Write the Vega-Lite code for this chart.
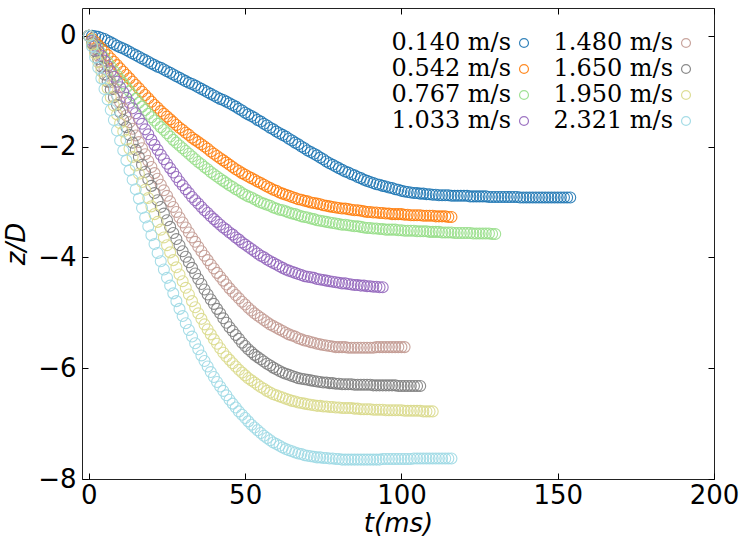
{
  "$schema": "https://vega.github.io/schema/vega-lite/v6.json",
  "description": "Penetration depth z/D against time for eight impact velocities.",
  "width": 632,
  "height": 471,
  "autosize": {"type": "none"},
  "padding": {"left": 82, "top": 8, "right": 33, "bottom": 69},
  "data": {
    "values": [
      {"v":"0.140","t":0,"z":0},{"v":"0.140","t":1,"z":-0.003},{"v":"0.140","t":2,"z":-0.01},{"v":"0.140","t":3,"z":-0.02},{"v":"0.140","t":4,"z":-0.04},{"v":"0.140","t":5,"z":-0.06},{"v":"0.140","t":6,"z":-0.09},{"v":"0.140","t":7,"z":-0.12},{"v":"0.140","t":8,"z":-0.15},{"v":"0.140","t":9,"z":-0.18},
      {"v":"0.140","t":10,"z":-0.21},{"v":"0.140","t":11,"z":-0.23},{"v":"0.140","t":12,"z":-0.26},{"v":"0.140","t":13,"z":-0.29},{"v":"0.140","t":14,"z":-0.32},{"v":"0.140","t":15,"z":-0.35},{"v":"0.140","t":16,"z":-0.38},{"v":"0.140","t":17,"z":-0.41},{"v":"0.140","t":18,"z":-0.44},{"v":"0.140","t":19,"z":-0.47},
      {"v":"0.140","t":20,"z":-0.50},{"v":"0.140","t":21,"z":-0.53},{"v":"0.140","t":22,"z":-0.56},{"v":"0.140","t":23,"z":-0.58},{"v":"0.140","t":24,"z":-0.61},{"v":"0.140","t":25,"z":-0.64},{"v":"0.140","t":26,"z":-0.67},{"v":"0.140","t":27,"z":-0.70},{"v":"0.140","t":28,"z":-0.73},{"v":"0.140","t":29,"z":-0.76},
      {"v":"0.140","t":30,"z":-0.79},{"v":"0.140","t":31,"z":-0.82},{"v":"0.140","t":32,"z":-0.85},{"v":"0.140","t":33,"z":-0.87},{"v":"0.140","t":34,"z":-0.90},{"v":"0.140","t":35,"z":-0.93},{"v":"0.140","t":36,"z":-0.96},{"v":"0.140","t":37,"z":-0.99},{"v":"0.140","t":38,"z":-1.02},{"v":"0.140","t":39,"z":-1.05},
      {"v":"0.140","t":40,"z":-1.08},{"v":"0.140","t":41,"z":-1.11},{"v":"0.140","t":42,"z":-1.14},{"v":"0.140","t":43,"z":-1.16},{"v":"0.140","t":44,"z":-1.19},{"v":"0.140","t":45,"z":-1.22},{"v":"0.140","t":46,"z":-1.25},{"v":"0.140","t":47,"z":-1.28},{"v":"0.140","t":48,"z":-1.32},{"v":"0.140","t":49,"z":-1.35},
      {"v":"0.140","t":50,"z":-1.39},{"v":"0.140","t":51,"z":-1.42},{"v":"0.140","t":52,"z":-1.45},{"v":"0.140","t":53,"z":-1.48},{"v":"0.140","t":54,"z":-1.52},{"v":"0.140","t":55,"z":-1.55},{"v":"0.140","t":56,"z":-1.59},{"v":"0.140","t":57,"z":-1.62},{"v":"0.140","t":58,"z":-1.66},{"v":"0.140","t":59,"z":-1.69},
      {"v":"0.140","t":60,"z":-1.73},{"v":"0.140","t":61,"z":-1.76},{"v":"0.140","t":62,"z":-1.79},{"v":"0.140","t":63,"z":-1.82},{"v":"0.140","t":64,"z":-1.86},{"v":"0.140","t":65,"z":-1.89},{"v":"0.140","t":66,"z":-1.93},{"v":"0.140","t":67,"z":-1.96},{"v":"0.140","t":68,"z":-2.00},{"v":"0.140","t":69,"z":-2.03},
      {"v":"0.140","t":70,"z":-2.07},{"v":"0.140","t":71,"z":-2.10},{"v":"0.140","t":72,"z":-2.13},{"v":"0.140","t":73,"z":-2.16},{"v":"0.140","t":74,"z":-2.20},{"v":"0.140","t":75,"z":-2.23},{"v":"0.140","t":76,"z":-2.27},{"v":"0.140","t":77,"z":-2.30},{"v":"0.140","t":78,"z":-2.33},{"v":"0.140","t":79,"z":-2.36},
      {"v":"0.140","t":80,"z":-2.39},{"v":"0.140","t":81,"z":-2.42},{"v":"0.140","t":82,"z":-2.45},{"v":"0.140","t":83,"z":-2.47},{"v":"0.140","t":84,"z":-2.50},{"v":"0.140","t":85,"z":-2.52},{"v":"0.140","t":86,"z":-2.55},{"v":"0.140","t":87,"z":-2.57},{"v":"0.140","t":88,"z":-2.60},{"v":"0.140","t":89,"z":-2.62},
      {"v":"0.140","t":90,"z":-2.64},{"v":"0.140","t":91,"z":-2.66},{"v":"0.140","t":92,"z":-2.68},{"v":"0.140","t":93,"z":-2.69},{"v":"0.140","t":94,"z":-2.71},{"v":"0.140","t":95,"z":-2.72},{"v":"0.140","t":96,"z":-2.74},{"v":"0.140","t":97,"z":-2.75},{"v":"0.140","t":98,"z":-2.77},{"v":"0.140","t":99,"z":-2.78},
      {"v":"0.140","t":100,"z":-2.80},{"v":"0.140","t":101,"z":-2.81},{"v":"0.140","t":102,"z":-2.82},{"v":"0.140","t":103,"z":-2.83},{"v":"0.140","t":104,"z":-2.84},{"v":"0.140","t":105,"z":-2.84},{"v":"0.140","t":106,"z":-2.85},{"v":"0.140","t":107,"z":-2.85},{"v":"0.140","t":108,"z":-2.86},{"v":"0.140","t":109,"z":-2.86},
      {"v":"0.140","t":110,"z":-2.87},{"v":"0.140","t":111,"z":-2.87},{"v":"0.140","t":112,"z":-2.88},{"v":"0.140","t":113,"z":-2.88},{"v":"0.140","t":114,"z":-2.88},{"v":"0.140","t":115,"z":-2.88},{"v":"0.140","t":116,"z":-2.89},{"v":"0.140","t":117,"z":-2.89},{"v":"0.140","t":118,"z":-2.89},{"v":"0.140","t":119,"z":-2.89},
      {"v":"0.140","t":120,"z":-2.89},{"v":"0.140","t":121,"z":-2.89},{"v":"0.140","t":122,"z":-2.90},{"v":"0.140","t":123,"z":-2.90},{"v":"0.140","t":124,"z":-2.90},{"v":"0.140","t":125,"z":-2.90},{"v":"0.140","t":126,"z":-2.90},{"v":"0.140","t":127,"z":-2.90},{"v":"0.140","t":128,"z":-2.91},{"v":"0.140","t":129,"z":-2.91},
      {"v":"0.140","t":130,"z":-2.91},{"v":"0.140","t":131,"z":-2.91},{"v":"0.140","t":132,"z":-2.91},{"v":"0.140","t":133,"z":-2.91},{"v":"0.140","t":134,"z":-2.91},{"v":"0.140","t":135,"z":-2.91},{"v":"0.140","t":136,"z":-2.91},{"v":"0.140","t":137,"z":-2.91},{"v":"0.140","t":138,"z":-2.92},{"v":"0.140","t":139,"z":-2.92},
      {"v":"0.140","t":140,"z":-2.92},{"v":"0.140","t":141,"z":-2.92},{"v":"0.140","t":142,"z":-2.92},{"v":"0.140","t":143,"z":-2.92},{"v":"0.140","t":144,"z":-2.92},{"v":"0.140","t":145,"z":-2.92},{"v":"0.140","t":146,"z":-2.92},{"v":"0.140","t":147,"z":-2.92},{"v":"0.140","t":148,"z":-2.92},{"v":"0.140","t":149,"z":-2.92},
      {"v":"0.140","t":150,"z":-2.92},{"v":"0.140","t":151,"z":-2.92},{"v":"0.140","t":152,"z":-2.92},{"v":"0.140","t":153,"z":-2.92},{"v":"0.140","t":154,"z":-2.92},
      {"v":"0.542","t":0,"z":0},{"v":"0.542","t":1,"z":-0.05},{"v":"0.542","t":2,"z":-0.11},{"v":"0.542","t":3,"z":-0.17},{"v":"0.542","t":4,"z":-0.23},{"v":"0.542","t":5,"z":-0.29},{"v":"0.542","t":6,"z":-0.35},{"v":"0.542","t":7,"z":-0.41},{"v":"0.542","t":8,"z":-0.47},{"v":"0.542","t":9,"z":-0.53},
      {"v":"0.542","t":10,"z":-0.59},{"v":"0.542","t":11,"z":-0.65},{"v":"0.542","t":12,"z":-0.71},{"v":"0.542","t":13,"z":-0.77},{"v":"0.542","t":14,"z":-0.83},{"v":"0.542","t":15,"z":-0.89},{"v":"0.542","t":16,"z":-0.95},{"v":"0.542","t":17,"z":-1.01},{"v":"0.542","t":18,"z":-1.07},{"v":"0.542","t":19,"z":-1.13},
      {"v":"0.542","t":20,"z":-1.19},{"v":"0.542","t":21,"z":-1.25},{"v":"0.542","t":22,"z":-1.30},{"v":"0.542","t":23,"z":-1.36},{"v":"0.542","t":24,"z":-1.41},{"v":"0.542","t":25,"z":-1.46},{"v":"0.542","t":26,"z":-1.51},{"v":"0.542","t":27,"z":-1.56},{"v":"0.542","t":28,"z":-1.61},{"v":"0.542","t":29,"z":-1.66},
      {"v":"0.542","t":30,"z":-1.70},{"v":"0.542","t":31,"z":-1.75},{"v":"0.542","t":32,"z":-1.79},{"v":"0.542","t":33,"z":-1.84},{"v":"0.542","t":34,"z":-1.88},{"v":"0.542","t":35,"z":-1.92},{"v":"0.542","t":36,"z":-1.96},{"v":"0.542","t":37,"z":-2.00},{"v":"0.542","t":38,"z":-2.04},{"v":"0.542","t":39,"z":-2.09},
      {"v":"0.542","t":40,"z":-2.13},{"v":"0.542","t":41,"z":-2.17},{"v":"0.542","t":42,"z":-2.21},{"v":"0.542","t":43,"z":-2.25},{"v":"0.542","t":44,"z":-2.29},{"v":"0.542","t":45,"z":-2.33},{"v":"0.542","t":46,"z":-2.37},{"v":"0.542","t":47,"z":-2.41},{"v":"0.542","t":48,"z":-2.44},{"v":"0.542","t":49,"z":-2.48},
      {"v":"0.542","t":50,"z":-2.51},{"v":"0.542","t":51,"z":-2.54},{"v":"0.542","t":52,"z":-2.57},{"v":"0.542","t":53,"z":-2.60},{"v":"0.542","t":54,"z":-2.63},{"v":"0.542","t":55,"z":-2.66},{"v":"0.542","t":56,"z":-2.69},{"v":"0.542","t":57,"z":-2.72},{"v":"0.542","t":58,"z":-2.75},{"v":"0.542","t":59,"z":-2.78},
      {"v":"0.542","t":60,"z":-2.80},{"v":"0.542","t":61,"z":-2.83},{"v":"0.542","t":62,"z":-2.85},{"v":"0.542","t":63,"z":-2.87},{"v":"0.542","t":64,"z":-2.89},{"v":"0.542","t":65,"z":-2.91},{"v":"0.542","t":66,"z":-2.93},{"v":"0.542","t":67,"z":-2.95},{"v":"0.542","t":68,"z":-2.96},{"v":"0.542","t":69,"z":-2.98},
      {"v":"0.542","t":70,"z":-2.99},{"v":"0.542","t":71,"z":-3.01},{"v":"0.542","t":72,"z":-3.02},{"v":"0.542","t":73,"z":-3.03},{"v":"0.542","t":74,"z":-3.04},{"v":"0.542","t":75,"z":-3.06},{"v":"0.542","t":76,"z":-3.07},{"v":"0.542","t":77,"z":-3.08},{"v":"0.542","t":78,"z":-3.09},{"v":"0.542","t":79,"z":-3.10},
      {"v":"0.542","t":80,"z":-3.11},{"v":"0.542","t":81,"z":-3.12},{"v":"0.542","t":82,"z":-3.12},{"v":"0.542","t":83,"z":-3.13},{"v":"0.542","t":84,"z":-3.14},{"v":"0.542","t":85,"z":-3.15},{"v":"0.542","t":86,"z":-3.15},{"v":"0.542","t":87,"z":-3.16},{"v":"0.542","t":88,"z":-3.17},{"v":"0.542","t":89,"z":-3.18},
      {"v":"0.542","t":90,"z":-3.18},{"v":"0.542","t":91,"z":-3.19},{"v":"0.542","t":92,"z":-3.19},{"v":"0.542","t":93,"z":-3.20},{"v":"0.542","t":94,"z":-3.20},{"v":"0.542","t":95,"z":-3.21},{"v":"0.542","t":96,"z":-3.21},{"v":"0.542","t":97,"z":-3.22},{"v":"0.542","t":98,"z":-3.22},{"v":"0.542","t":99,"z":-3.22},
      {"v":"0.542","t":100,"z":-3.22},{"v":"0.542","t":101,"z":-3.23},{"v":"0.542","t":102,"z":-3.23},{"v":"0.542","t":103,"z":-3.24},{"v":"0.542","t":104,"z":-3.24},{"v":"0.542","t":105,"z":-3.24},{"v":"0.542","t":106,"z":-3.24},{"v":"0.542","t":107,"z":-3.25},{"v":"0.542","t":108,"z":-3.25},{"v":"0.542","t":109,"z":-3.25},
      {"v":"0.542","t":110,"z":-3.25},{"v":"0.542","t":111,"z":-3.26},{"v":"0.542","t":112,"z":-3.26},{"v":"0.542","t":113,"z":-3.26},{"v":"0.542","t":114,"z":-3.26},{"v":"0.542","t":115,"z":-3.27},{"v":"0.542","t":116,"z":-3.27},
      {"v":"0.767","t":0,"z":0},{"v":"0.767","t":1,"z":-0.08},{"v":"0.767","t":2,"z":-0.16},{"v":"0.767","t":3,"z":-0.24},{"v":"0.767","t":4,"z":-0.32},{"v":"0.767","t":5,"z":-0.40},{"v":"0.767","t":6,"z":-0.48},{"v":"0.767","t":7,"z":-0.56},{"v":"0.767","t":8,"z":-0.64},{"v":"0.767","t":9,"z":-0.72},
      {"v":"0.767","t":10,"z":-0.79},{"v":"0.767","t":11,"z":-0.86},{"v":"0.767","t":12,"z":-0.93},{"v":"0.767","t":13,"z":-1.00},{"v":"0.767","t":14,"z":-1.07},{"v":"0.767","t":15,"z":-1.14},{"v":"0.767","t":16,"z":-1.21},{"v":"0.767","t":17,"z":-1.28},{"v":"0.767","t":18,"z":-1.34},{"v":"0.767","t":19,"z":-1.41},
      {"v":"0.767","t":20,"z":-1.47},{"v":"0.767","t":21,"z":-1.53},{"v":"0.767","t":22,"z":-1.59},{"v":"0.767","t":23,"z":-1.65},{"v":"0.767","t":24,"z":-1.70},{"v":"0.767","t":25,"z":-1.76},{"v":"0.767","t":26,"z":-1.82},{"v":"0.767","t":27,"z":-1.88},{"v":"0.767","t":28,"z":-1.93},{"v":"0.767","t":29,"z":-1.98},
      {"v":"0.767","t":30,"z":-2.03},{"v":"0.767","t":31,"z":-2.08},{"v":"0.767","t":32,"z":-2.13},{"v":"0.767","t":33,"z":-2.18},{"v":"0.767","t":34,"z":-2.23},{"v":"0.767","t":35,"z":-2.28},{"v":"0.767","t":36,"z":-2.32},{"v":"0.767","t":37,"z":-2.37},{"v":"0.767","t":38,"z":-2.41},{"v":"0.767","t":39,"z":-2.46},
      {"v":"0.767","t":40,"z":-2.50},{"v":"0.767","t":41,"z":-2.54},{"v":"0.767","t":42,"z":-2.58},{"v":"0.767","t":43,"z":-2.62},{"v":"0.767","t":44,"z":-2.66},{"v":"0.767","t":45,"z":-2.70},{"v":"0.767","t":46,"z":-2.73},{"v":"0.767","t":47,"z":-2.77},{"v":"0.767","t":48,"z":-2.80},{"v":"0.767","t":49,"z":-2.84},
      {"v":"0.767","t":50,"z":-2.87},{"v":"0.767","t":51,"z":-2.90},{"v":"0.767","t":52,"z":-2.92},{"v":"0.767","t":53,"z":-2.95},{"v":"0.767","t":54,"z":-2.98},{"v":"0.767","t":55,"z":-3.01},{"v":"0.767","t":56,"z":-3.03},{"v":"0.767","t":57,"z":-3.05},{"v":"0.767","t":58,"z":-3.07},{"v":"0.767","t":59,"z":-3.10},
      {"v":"0.767","t":60,"z":-3.12},{"v":"0.767","t":61,"z":-3.14},{"v":"0.767","t":62,"z":-3.15},{"v":"0.767","t":63,"z":-3.17},{"v":"0.767","t":64,"z":-3.19},{"v":"0.767","t":65,"z":-3.21},{"v":"0.767","t":66,"z":-3.22},{"v":"0.767","t":67,"z":-3.24},{"v":"0.767","t":68,"z":-3.26},{"v":"0.767","t":69,"z":-3.27},
      {"v":"0.767","t":70,"z":-3.28},{"v":"0.767","t":71,"z":-3.30},{"v":"0.767","t":72,"z":-3.31},{"v":"0.767","t":73,"z":-3.33},{"v":"0.767","t":74,"z":-3.34},{"v":"0.767","t":75,"z":-3.35},{"v":"0.767","t":76,"z":-3.36},{"v":"0.767","t":77,"z":-3.37},{"v":"0.767","t":78,"z":-3.38},{"v":"0.767","t":79,"z":-3.39},
      {"v":"0.767","t":80,"z":-3.40},{"v":"0.767","t":81,"z":-3.41},{"v":"0.767","t":82,"z":-3.41},{"v":"0.767","t":83,"z":-3.42},{"v":"0.767","t":84,"z":-3.43},{"v":"0.767","t":85,"z":-3.44},{"v":"0.767","t":86,"z":-3.44},{"v":"0.767","t":87,"z":-3.45},{"v":"0.767","t":88,"z":-3.46},{"v":"0.767","t":89,"z":-3.47},
      {"v":"0.767","t":90,"z":-3.47},{"v":"0.767","t":91,"z":-3.48},{"v":"0.767","t":92,"z":-3.48},{"v":"0.767","t":93,"z":-3.49},{"v":"0.767","t":94,"z":-3.49},{"v":"0.767","t":95,"z":-3.50},{"v":"0.767","t":96,"z":-3.50},{"v":"0.767","t":97,"z":-3.50},{"v":"0.767","t":98,"z":-3.50},{"v":"0.767","t":99,"z":-3.51},
      {"v":"0.767","t":100,"z":-3.51},{"v":"0.767","t":101,"z":-3.52},{"v":"0.767","t":102,"z":-3.52},{"v":"0.767","t":103,"z":-3.52},{"v":"0.767","t":104,"z":-3.52},{"v":"0.767","t":105,"z":-3.53},{"v":"0.767","t":106,"z":-3.53},{"v":"0.767","t":107,"z":-3.53},{"v":"0.767","t":108,"z":-3.53},{"v":"0.767","t":109,"z":-3.54},
      {"v":"0.767","t":110,"z":-3.54},{"v":"0.767","t":111,"z":-3.54},{"v":"0.767","t":112,"z":-3.54},{"v":"0.767","t":113,"z":-3.55},{"v":"0.767","t":114,"z":-3.55},{"v":"0.767","t":115,"z":-3.55},{"v":"0.767","t":116,"z":-3.55},{"v":"0.767","t":117,"z":-3.56},{"v":"0.767","t":118,"z":-3.56},{"v":"0.767","t":119,"z":-3.56},
      {"v":"0.767","t":120,"z":-3.56},{"v":"0.767","t":121,"z":-3.56},{"v":"0.767","t":122,"z":-3.56},{"v":"0.767","t":123,"z":-3.57},{"v":"0.767","t":124,"z":-3.57},{"v":"0.767","t":125,"z":-3.57},{"v":"0.767","t":126,"z":-3.57},{"v":"0.767","t":127,"z":-3.57},{"v":"0.767","t":128,"z":-3.57},{"v":"0.767","t":129,"z":-3.58},{"v":"0.767","t":130,"z":-3.58},
      {"v":"1.033","t":0,"z":0},{"v":"1.033","t":1,"z":-0.09},{"v":"1.033","t":2,"z":-0.18},{"v":"1.033","t":3,"z":-0.27},{"v":"1.033","t":4,"z":-0.36},{"v":"1.033","t":5,"z":-0.45},{"v":"1.033","t":6,"z":-0.55},{"v":"1.033","t":7,"z":-0.64},{"v":"1.033","t":8,"z":-0.74},{"v":"1.033","t":9,"z":-0.83},
      {"v":"1.033","t":10,"z":-0.93},{"v":"1.033","t":11,"z":-1.02},{"v":"1.033","t":12,"z":-1.12},{"v":"1.033","t":13,"z":-1.21},{"v":"1.033","t":14,"z":-1.31},{"v":"1.033","t":15,"z":-1.40},{"v":"1.033","t":16,"z":-1.50},{"v":"1.033","t":17,"z":-1.59},{"v":"1.033","t":18,"z":-1.69},{"v":"1.033","t":19,"z":-1.78},
      {"v":"1.033","t":20,"z":-1.88},{"v":"1.033","t":21,"z":-1.97},{"v":"1.033","t":22,"z":-2.06},{"v":"1.033","t":23,"z":-2.15},{"v":"1.033","t":24,"z":-2.23},{"v":"1.033","t":25,"z":-2.31},{"v":"1.033","t":26,"z":-2.39},{"v":"1.033","t":27,"z":-2.47},{"v":"1.033","t":28,"z":-2.55},{"v":"1.033","t":29,"z":-2.63},
      {"v":"1.033","t":30,"z":-2.70},{"v":"1.033","t":31,"z":-2.77},{"v":"1.033","t":32,"z":-2.84},{"v":"1.033","t":33,"z":-2.91},{"v":"1.033","t":34,"z":-2.97},{"v":"1.033","t":35,"z":-3.03},{"v":"1.033","t":36,"z":-3.09},{"v":"1.033","t":37,"z":-3.15},{"v":"1.033","t":38,"z":-3.20},{"v":"1.033","t":39,"z":-3.26},
      {"v":"1.033","t":40,"z":-3.31},{"v":"1.033","t":41,"z":-3.36},{"v":"1.033","t":42,"z":-3.41},{"v":"1.033","t":43,"z":-3.46},{"v":"1.033","t":44,"z":-3.50},{"v":"1.033","t":45,"z":-3.55},{"v":"1.033","t":46,"z":-3.59},{"v":"1.033","t":47,"z":-3.64},{"v":"1.033","t":48,"z":-3.68},{"v":"1.033","t":49,"z":-3.73},
      {"v":"1.033","t":50,"z":-3.77},{"v":"1.033","t":51,"z":-3.81},{"v":"1.033","t":52,"z":-3.85},{"v":"1.033","t":53,"z":-3.89},{"v":"1.033","t":54,"z":-3.93},{"v":"1.033","t":55,"z":-3.97},{"v":"1.033","t":56,"z":-4.00},{"v":"1.033","t":57,"z":-4.04},{"v":"1.033","t":58,"z":-4.07},{"v":"1.033","t":59,"z":-4.10},
      {"v":"1.033","t":60,"z":-4.13},{"v":"1.033","t":61,"z":-4.16},{"v":"1.033","t":62,"z":-4.19},{"v":"1.033","t":63,"z":-4.22},{"v":"1.033","t":64,"z":-4.24},{"v":"1.033","t":65,"z":-4.26},{"v":"1.033","t":66,"z":-4.28},{"v":"1.033","t":67,"z":-4.30},{"v":"1.033","t":68,"z":-4.32},{"v":"1.033","t":69,"z":-4.34},
      {"v":"1.033","t":70,"z":-4.35},{"v":"1.033","t":71,"z":-4.36},{"v":"1.033","t":72,"z":-4.37},{"v":"1.033","t":73,"z":-4.39},{"v":"1.033","t":74,"z":-4.40},{"v":"1.033","t":75,"z":-4.41},{"v":"1.033","t":76,"z":-4.42},{"v":"1.033","t":77,"z":-4.43},{"v":"1.033","t":78,"z":-4.44},{"v":"1.033","t":79,"z":-4.45},
      {"v":"1.033","t":80,"z":-4.46},{"v":"1.033","t":81,"z":-4.47},{"v":"1.033","t":82,"z":-4.47},{"v":"1.033","t":83,"z":-4.48},{"v":"1.033","t":84,"z":-4.49},{"v":"1.033","t":85,"z":-4.50},{"v":"1.033","t":86,"z":-4.50},{"v":"1.033","t":87,"z":-4.51},{"v":"1.033","t":88,"z":-4.51},{"v":"1.033","t":89,"z":-4.52},
      {"v":"1.033","t":90,"z":-4.52},{"v":"1.033","t":91,"z":-4.53},{"v":"1.033","t":92,"z":-4.53},{"v":"1.033","t":93,"z":-4.54},{"v":"1.033","t":94,"z":-4.54},
      {"v":"1.480","t":0,"z":0},{"v":"1.480","t":1,"z":-0.12},{"v":"1.480","t":2,"z":-0.24},{"v":"1.480","t":3,"z":-0.36},{"v":"1.480","t":4,"z":-0.48},{"v":"1.480","t":5,"z":-0.60},{"v":"1.480","t":6,"z":-0.72},{"v":"1.480","t":7,"z":-0.84},{"v":"1.480","t":8,"z":-0.96},{"v":"1.480","t":9,"z":-1.08},
      {"v":"1.480","t":10,"z":-1.20},{"v":"1.480","t":11,"z":-1.32},{"v":"1.480","t":12,"z":-1.44},{"v":"1.480","t":13,"z":-1.56},{"v":"1.480","t":14,"z":-1.68},{"v":"1.480","t":15,"z":-1.80},{"v":"1.480","t":16,"z":-1.92},{"v":"1.480","t":17,"z":-2.03},{"v":"1.480","t":18,"z":-2.14},{"v":"1.480","t":19,"z":-2.26},
      {"v":"1.480","t":20,"z":-2.37},{"v":"1.480","t":21,"z":-2.48},{"v":"1.480","t":22,"z":-2.58},{"v":"1.480","t":23,"z":-2.69},{"v":"1.480","t":24,"z":-2.79},{"v":"1.480","t":25,"z":-2.89},{"v":"1.480","t":26,"z":-2.99},{"v":"1.480","t":27,"z":-3.09},{"v":"1.480","t":28,"z":-3.18},{"v":"1.480","t":29,"z":-3.28},
      {"v":"1.480","t":30,"z":-3.37},{"v":"1.480","t":31,"z":-3.46},{"v":"1.480","t":32,"z":-3.55},{"v":"1.480","t":33,"z":-3.64},{"v":"1.480","t":34,"z":-3.72},{"v":"1.480","t":35,"z":-3.81},{"v":"1.480","t":36,"z":-3.89},{"v":"1.480","t":37,"z":-3.97},{"v":"1.480","t":38,"z":-4.05},{"v":"1.480","t":39,"z":-4.13},
      {"v":"1.480","t":40,"z":-4.20},{"v":"1.480","t":41,"z":-4.28},{"v":"1.480","t":42,"z":-4.35},{"v":"1.480","t":43,"z":-4.42},{"v":"1.480","t":44,"z":-4.49},{"v":"1.480","t":45,"z":-4.56},{"v":"1.480","t":46,"z":-4.62},{"v":"1.480","t":47,"z":-4.68},{"v":"1.480","t":48,"z":-4.74},{"v":"1.480","t":49,"z":-4.80},
      {"v":"1.480","t":50,"z":-4.85},{"v":"1.480","t":51,"z":-4.91},{"v":"1.480","t":52,"z":-4.96},{"v":"1.480","t":53,"z":-5.01},{"v":"1.480","t":54,"z":-5.05},{"v":"1.480","t":55,"z":-5.09},{"v":"1.480","t":56,"z":-5.13},{"v":"1.480","t":57,"z":-5.17},{"v":"1.480","t":58,"z":-5.21},{"v":"1.480","t":59,"z":-5.24},
      {"v":"1.480","t":60,"z":-5.27},{"v":"1.480","t":61,"z":-5.30},{"v":"1.480","t":62,"z":-5.33},{"v":"1.480","t":63,"z":-5.36},{"v":"1.480","t":64,"z":-5.39},{"v":"1.480","t":65,"z":-5.41},{"v":"1.480","t":66,"z":-5.43},{"v":"1.480","t":67,"z":-5.46},{"v":"1.480","t":68,"z":-5.48},{"v":"1.480","t":69,"z":-5.50},
      {"v":"1.480","t":70,"z":-5.51},{"v":"1.480","t":71,"z":-5.53},{"v":"1.480","t":72,"z":-5.54},{"v":"1.480","t":73,"z":-5.56},{"v":"1.480","t":74,"z":-5.57},{"v":"1.480","t":75,"z":-5.58},{"v":"1.480","t":76,"z":-5.59},{"v":"1.480","t":77,"z":-5.60},{"v":"1.480","t":78,"z":-5.61},{"v":"1.480","t":79,"z":-5.62},
      {"v":"1.480","t":80,"z":-5.62},{"v":"1.480","t":81,"z":-5.62},{"v":"1.480","t":82,"z":-5.62},{"v":"1.480","t":83,"z":-5.63},{"v":"1.480","t":84,"z":-5.63},{"v":"1.480","t":85,"z":-5.63},{"v":"1.480","t":86,"z":-5.63},{"v":"1.480","t":87,"z":-5.63},{"v":"1.480","t":88,"z":-5.63},{"v":"1.480","t":89,"z":-5.63},
      {"v":"1.480","t":90,"z":-5.63},{"v":"1.480","t":91,"z":-5.63},{"v":"1.480","t":92,"z":-5.62},{"v":"1.480","t":93,"z":-5.62},{"v":"1.480","t":94,"z":-5.62},{"v":"1.480","t":95,"z":-5.62},{"v":"1.480","t":96,"z":-5.62},{"v":"1.480","t":97,"z":-5.62},{"v":"1.480","t":98,"z":-5.62},{"v":"1.480","t":99,"z":-5.62},{"v":"1.480","t":100,"z":-5.62},{"v":"1.480","t":101,"z":-5.62},
      {"v":"1.650","t":0,"z":0},{"v":"1.650","t":1,"z":-0.14},{"v":"1.650","t":2,"z":-0.28},{"v":"1.650","t":3,"z":-0.42},{"v":"1.650","t":4,"z":-0.56},{"v":"1.650","t":5,"z":-0.70},{"v":"1.650","t":6,"z":-0.83},{"v":"1.650","t":7,"z":-0.97},{"v":"1.650","t":8,"z":-1.11},{"v":"1.650","t":9,"z":-1.25},
      {"v":"1.650","t":10,"z":-1.38},{"v":"1.650","t":11,"z":-1.52},{"v":"1.650","t":12,"z":-1.65},{"v":"1.650","t":13,"z":-1.79},{"v":"1.650","t":14,"z":-1.93},{"v":"1.650","t":15,"z":-2.06},{"v":"1.650","t":16,"z":-2.19},{"v":"1.650","t":17,"z":-2.33},{"v":"1.650","t":18,"z":-2.46},{"v":"1.650","t":19,"z":-2.59},
      {"v":"1.650","t":20,"z":-2.71},{"v":"1.650","t":21,"z":-2.84},{"v":"1.650","t":22,"z":-2.97},{"v":"1.650","t":23,"z":-3.09},{"v":"1.650","t":24,"z":-3.21},{"v":"1.650","t":25,"z":-3.33},{"v":"1.650","t":26,"z":-3.45},{"v":"1.650","t":27,"z":-3.56},{"v":"1.650","t":28,"z":-3.67},{"v":"1.650","t":29,"z":-3.78},
      {"v":"1.650","t":30,"z":-3.89},{"v":"1.650","t":31,"z":-3.99},{"v":"1.650","t":32,"z":-4.09},{"v":"1.650","t":33,"z":-4.19},{"v":"1.650","t":34,"z":-4.29},{"v":"1.650","t":35,"z":-4.39},{"v":"1.650","t":36,"z":-4.48},{"v":"1.650","t":37,"z":-4.58},{"v":"1.650","t":38,"z":-4.67},{"v":"1.650","t":39,"z":-4.76},
      {"v":"1.650","t":40,"z":-4.84},{"v":"1.650","t":41,"z":-4.93},{"v":"1.650","t":42,"z":-5.01},{"v":"1.650","t":43,"z":-5.10},{"v":"1.650","t":44,"z":-5.18},{"v":"1.650","t":45,"z":-5.26},{"v":"1.650","t":46,"z":-5.33},{"v":"1.650","t":47,"z":-5.40},{"v":"1.650","t":48,"z":-5.47},{"v":"1.650","t":49,"z":-5.54},
      {"v":"1.650","t":50,"z":-5.60},{"v":"1.650","t":51,"z":-5.66},{"v":"1.650","t":52,"z":-5.71},{"v":"1.650","t":53,"z":-5.76},{"v":"1.650","t":54,"z":-5.80},{"v":"1.650","t":55,"z":-5.84},{"v":"1.650","t":56,"z":-5.88},{"v":"1.650","t":57,"z":-5.92},{"v":"1.650","t":58,"z":-5.95},{"v":"1.650","t":59,"z":-5.99},
      {"v":"1.650","t":60,"z":-6.02},{"v":"1.650","t":61,"z":-6.05},{"v":"1.650","t":62,"z":-6.08},{"v":"1.650","t":63,"z":-6.10},{"v":"1.650","t":64,"z":-6.12},{"v":"1.650","t":65,"z":-6.14},{"v":"1.650","t":66,"z":-6.16},{"v":"1.650","t":67,"z":-6.18},{"v":"1.650","t":68,"z":-6.19},{"v":"1.650","t":69,"z":-6.20},
      {"v":"1.650","t":70,"z":-6.21},{"v":"1.650","t":71,"z":-6.22},{"v":"1.650","t":72,"z":-6.23},{"v":"1.650","t":73,"z":-6.24},{"v":"1.650","t":74,"z":-6.25},{"v":"1.650","t":75,"z":-6.26},{"v":"1.650","t":76,"z":-6.26},{"v":"1.650","t":77,"z":-6.27},{"v":"1.650","t":78,"z":-6.27},{"v":"1.650","t":79,"z":-6.28},
      {"v":"1.650","t":80,"z":-6.28},{"v":"1.650","t":81,"z":-6.29},{"v":"1.650","t":82,"z":-6.29},{"v":"1.650","t":83,"z":-6.29},{"v":"1.650","t":84,"z":-6.29},{"v":"1.650","t":85,"z":-6.30},{"v":"1.650","t":86,"z":-6.30},{"v":"1.650","t":87,"z":-6.30},{"v":"1.650","t":88,"z":-6.30},{"v":"1.650","t":89,"z":-6.30},
      {"v":"1.650","t":90,"z":-6.30},{"v":"1.650","t":91,"z":-6.31},{"v":"1.650","t":92,"z":-6.31},{"v":"1.650","t":93,"z":-6.31},{"v":"1.650","t":94,"z":-6.31},{"v":"1.650","t":95,"z":-6.31},{"v":"1.650","t":96,"z":-6.31},{"v":"1.650","t":97,"z":-6.31},{"v":"1.650","t":98,"z":-6.31},{"v":"1.650","t":99,"z":-6.32},
      {"v":"1.650","t":100,"z":-6.32},{"v":"1.650","t":101,"z":-6.32},{"v":"1.650","t":102,"z":-6.32},{"v":"1.650","t":103,"z":-6.32},{"v":"1.650","t":104,"z":-6.32},{"v":"1.650","t":105,"z":-6.32},{"v":"1.650","t":106,"z":-6.32},
      {"v":"1.950","t":0,"z":0},{"v":"1.950","t":1,"z":-0.16},{"v":"1.950","t":2,"z":-0.32},{"v":"1.950","t":3,"z":-0.48},{"v":"1.950","t":4,"z":-0.64},{"v":"1.950","t":5,"z":-0.80},{"v":"1.950","t":6,"z":-0.95},{"v":"1.950","t":7,"z":-1.11},{"v":"1.950","t":8,"z":-1.26},{"v":"1.950","t":9,"z":-1.42},
      {"v":"1.950","t":10,"z":-1.58},{"v":"1.950","t":11,"z":-1.73},{"v":"1.950","t":12,"z":-1.88},{"v":"1.950","t":13,"z":-2.04},{"v":"1.950","t":14,"z":-2.19},{"v":"1.950","t":15,"z":-2.34},{"v":"1.950","t":16,"z":-2.49},{"v":"1.950","t":17,"z":-2.64},{"v":"1.950","t":18,"z":-2.78},{"v":"1.950","t":19,"z":-2.93},
      {"v":"1.950","t":20,"z":-3.08},{"v":"1.950","t":21,"z":-3.22},{"v":"1.950","t":22,"z":-3.36},{"v":"1.950","t":23,"z":-3.50},{"v":"1.950","t":24,"z":-3.64},{"v":"1.950","t":25,"z":-3.78},{"v":"1.950","t":26,"z":-3.91},{"v":"1.950","t":27,"z":-4.05},{"v":"1.950","t":28,"z":-4.18},{"v":"1.950","t":29,"z":-4.31},
      {"v":"1.950","t":30,"z":-4.43},{"v":"1.950","t":31,"z":-4.55},{"v":"1.950","t":32,"z":-4.67},{"v":"1.950","t":33,"z":-4.79},{"v":"1.950","t":34,"z":-4.90},{"v":"1.950","t":35,"z":-5.01},{"v":"1.950","t":36,"z":-5.11},{"v":"1.950","t":37,"z":-5.21},{"v":"1.950","t":38,"z":-5.30},{"v":"1.950","t":39,"z":-5.39},
      {"v":"1.950","t":40,"z":-5.48},{"v":"1.950","t":41,"z":-5.56},{"v":"1.950","t":42,"z":-5.64},{"v":"1.950","t":43,"z":-5.72},{"v":"1.950","t":44,"z":-5.79},{"v":"1.950","t":45,"z":-5.85},{"v":"1.950","t":46,"z":-5.91},{"v":"1.950","t":47,"z":-5.97},{"v":"1.950","t":48,"z":-6.03},{"v":"1.950","t":49,"z":-6.08},
      {"v":"1.950","t":50,"z":-6.13},{"v":"1.950","t":51,"z":-6.18},{"v":"1.950","t":52,"z":-6.22},{"v":"1.950","t":53,"z":-6.26},{"v":"1.950","t":54,"z":-6.30},{"v":"1.950","t":55,"z":-6.34},{"v":"1.950","t":56,"z":-6.37},{"v":"1.950","t":57,"z":-6.41},{"v":"1.950","t":58,"z":-6.44},{"v":"1.950","t":59,"z":-6.47},
      {"v":"1.950","t":60,"z":-6.49},{"v":"1.950","t":61,"z":-6.51},{"v":"1.950","t":62,"z":-6.53},{"v":"1.950","t":63,"z":-6.55},{"v":"1.950","t":64,"z":-6.57},{"v":"1.950","t":65,"z":-6.59},{"v":"1.950","t":66,"z":-6.60},{"v":"1.950","t":67,"z":-6.62},{"v":"1.950","t":68,"z":-6.63},{"v":"1.950","t":69,"z":-6.64},
      {"v":"1.950","t":70,"z":-6.65},{"v":"1.950","t":71,"z":-6.66},{"v":"1.950","t":72,"z":-6.67},{"v":"1.950","t":73,"z":-6.68},{"v":"1.950","t":74,"z":-6.68},{"v":"1.950","t":75,"z":-6.69},{"v":"1.950","t":76,"z":-6.69},{"v":"1.950","t":77,"z":-6.70},{"v":"1.950","t":78,"z":-6.70},{"v":"1.950","t":79,"z":-6.71},
      {"v":"1.950","t":80,"z":-6.71},{"v":"1.950","t":81,"z":-6.72},{"v":"1.950","t":82,"z":-6.72},{"v":"1.950","t":83,"z":-6.72},{"v":"1.950","t":84,"z":-6.72},{"v":"1.950","t":85,"z":-6.73},{"v":"1.950","t":86,"z":-6.73},{"v":"1.950","t":87,"z":-6.74},{"v":"1.950","t":88,"z":-6.74},{"v":"1.950","t":89,"z":-6.74},
      {"v":"1.950","t":90,"z":-6.74},{"v":"1.950","t":91,"z":-6.75},{"v":"1.950","t":92,"z":-6.75},{"v":"1.950","t":93,"z":-6.75},{"v":"1.950","t":94,"z":-6.75},{"v":"1.950","t":95,"z":-6.76},{"v":"1.950","t":96,"z":-6.76},{"v":"1.950","t":97,"z":-6.76},{"v":"1.950","t":98,"z":-6.76},{"v":"1.950","t":99,"z":-6.76},
      {"v":"1.950","t":100,"z":-6.76},{"v":"1.950","t":101,"z":-6.77},{"v":"1.950","t":102,"z":-6.77},{"v":"1.950","t":103,"z":-6.77},{"v":"1.950","t":104,"z":-6.77},{"v":"1.950","t":105,"z":-6.77},{"v":"1.950","t":106,"z":-6.77},{"v":"1.950","t":107,"z":-6.78},{"v":"1.950","t":108,"z":-6.78},{"v":"1.950","t":109,"z":-6.78},{"v":"1.950","t":110,"z":-6.78},
      {"v":"2.321","t":0,"z":0},{"v":"2.321","t":1,"z":-0.19},{"v":"2.321","t":2,"z":-0.39},{"v":"2.321","t":3,"z":-0.58},{"v":"2.321","t":4,"z":-0.77},{"v":"2.321","t":5,"z":-0.96},{"v":"2.321","t":6,"z":-1.15},{"v":"2.321","t":7,"z":-1.34},{"v":"2.321","t":8,"z":-1.52},{"v":"2.321","t":9,"z":-1.71},
      {"v":"2.321","t":10,"z":-1.89},{"v":"2.321","t":11,"z":-2.07},{"v":"2.321","t":12,"z":-2.25},{"v":"2.321","t":13,"z":-2.43},{"v":"2.321","t":14,"z":-2.60},{"v":"2.321","t":15,"z":-2.77},{"v":"2.321","t":16,"z":-2.94},{"v":"2.321","t":17,"z":-3.11},{"v":"2.321","t":18,"z":-3.28},{"v":"2.321","t":19,"z":-3.44},
      {"v":"2.321","t":20,"z":-3.60},{"v":"2.321","t":21,"z":-3.76},{"v":"2.321","t":22,"z":-3.92},{"v":"2.321","t":23,"z":-4.07},{"v":"2.321","t":24,"z":-4.22},{"v":"2.321","t":25,"z":-4.37},{"v":"2.321","t":26,"z":-4.51},{"v":"2.321","t":27,"z":-4.65},{"v":"2.321","t":28,"z":-4.79},{"v":"2.321","t":29,"z":-4.93},
      {"v":"2.321","t":30,"z":-5.06},{"v":"2.321","t":31,"z":-5.19},{"v":"2.321","t":32,"z":-5.31},{"v":"2.321","t":33,"z":-5.43},{"v":"2.321","t":34,"z":-5.55},{"v":"2.321","t":35,"z":-5.66},{"v":"2.321","t":36,"z":-5.77},{"v":"2.321","t":37,"z":-5.87},{"v":"2.321","t":38,"z":-5.97},{"v":"2.321","t":39,"z":-6.07},
      {"v":"2.321","t":40,"z":-6.16},{"v":"2.321","t":41,"z":-6.25},{"v":"2.321","t":42,"z":-6.33},{"v":"2.321","t":43,"z":-6.41},{"v":"2.321","t":44,"z":-6.49},{"v":"2.321","t":45,"z":-6.57},{"v":"2.321","t":46,"z":-6.64},{"v":"2.321","t":47,"z":-6.71},{"v":"2.321","t":48,"z":-6.78},{"v":"2.321","t":49,"z":-6.84},
      {"v":"2.321","t":50,"z":-6.90},{"v":"2.321","t":51,"z":-6.96},{"v":"2.321","t":52,"z":-7.02},{"v":"2.321","t":53,"z":-7.07},{"v":"2.321","t":54,"z":-7.12},{"v":"2.321","t":55,"z":-7.17},{"v":"2.321","t":56,"z":-7.22},{"v":"2.321","t":57,"z":-7.26},{"v":"2.321","t":58,"z":-7.30},{"v":"2.321","t":59,"z":-7.34},
      {"v":"2.321","t":60,"z":-7.37},{"v":"2.321","t":61,"z":-7.40},{"v":"2.321","t":62,"z":-7.43},{"v":"2.321","t":63,"z":-7.46},{"v":"2.321","t":64,"z":-7.48},{"v":"2.321","t":65,"z":-7.50},{"v":"2.321","t":66,"z":-7.52},{"v":"2.321","t":67,"z":-7.54},{"v":"2.321","t":68,"z":-7.55},{"v":"2.321","t":69,"z":-7.57},
      {"v":"2.321","t":70,"z":-7.58},{"v":"2.321","t":71,"z":-7.59},{"v":"2.321","t":72,"z":-7.60},{"v":"2.321","t":73,"z":-7.61},{"v":"2.321","t":74,"z":-7.61},{"v":"2.321","t":75,"z":-7.62},{"v":"2.321","t":76,"z":-7.62},{"v":"2.321","t":77,"z":-7.63},{"v":"2.321","t":78,"z":-7.63},{"v":"2.321","t":79,"z":-7.64},
      {"v":"2.321","t":80,"z":-7.64},{"v":"2.321","t":81,"z":-7.65},{"v":"2.321","t":82,"z":-7.65},{"v":"2.321","t":83,"z":-7.65},{"v":"2.321","t":84,"z":-7.65},{"v":"2.321","t":85,"z":-7.65},{"v":"2.321","t":86,"z":-7.65},{"v":"2.321","t":87,"z":-7.65},{"v":"2.321","t":88,"z":-7.65},{"v":"2.321","t":89,"z":-7.65},
      {"v":"2.321","t":90,"z":-7.65},{"v":"2.321","t":91,"z":-7.65},{"v":"2.321","t":92,"z":-7.65},{"v":"2.321","t":93,"z":-7.65},{"v":"2.321","t":94,"z":-7.64},{"v":"2.321","t":95,"z":-7.64},{"v":"2.321","t":96,"z":-7.64},{"v":"2.321","t":97,"z":-7.64},{"v":"2.321","t":98,"z":-7.64},{"v":"2.321","t":99,"z":-7.64},
      {"v":"2.321","t":100,"z":-7.64},{"v":"2.321","t":101,"z":-7.64},{"v":"2.321","t":102,"z":-7.64},{"v":"2.321","t":103,"z":-7.64},{"v":"2.321","t":104,"z":-7.63},{"v":"2.321","t":105,"z":-7.63},{"v":"2.321","t":106,"z":-7.63},{"v":"2.321","t":107,"z":-7.63},{"v":"2.321","t":108,"z":-7.63},{"v":"2.321","t":109,"z":-7.63},
      {"v":"2.321","t":110,"z":-7.63},{"v":"2.321","t":111,"z":-7.63},{"v":"2.321","t":112,"z":-7.63},{"v":"2.321","t":113,"z":-7.63},{"v":"2.321","t":114,"z":-7.63},{"v":"2.321","t":115,"z":-7.63},{"v":"2.321","t":116,"z":-7.63}
    ]
  },
  "layer": [
    {
      "mark": {"type": "point", "filled": false, "size": 120, "strokeWidth": 1.1, "opacity": 0.9},
      "encoding": {
        "x": {
          "field": "t",
          "type": "quantitative",
          "scale": {"domain": [-2.2, 200], "nice": false, "zero": false},
          "axis": {"values": [0, 50, 100, 150, 200], "title": "t(ms)", "labelPadding": 9, "titlePadding": 2}
        },
        "y": {
          "field": "z",
          "type": "quantitative",
          "scale": {"domain": [-8, 0.5], "nice": false, "zero": false},
          "axis": {"values": [-8, -6, -4, -2, 0], "title": "z/D", "labelPadding": 12, "titlePadding": 8}
        },
        "color": {
          "field": "v",
          "type": "nominal",
          "scale": {
            "domain": ["0.140", "0.542", "0.767", "1.033", "1.480", "1.650", "1.950", "2.321"],
            "range": ["#1f77b4", "#ff7f0e", "#98df8a", "#9467bd", "#c49c94", "#7f7f7f", "#dbdb8d", "#9edae5"]
          },
          "legend": {
            "orient": "none",
            "legendX": 430,
            "legendY": 23,
            "columns": 2,
            "title": null,
            "labelExpr": "datum.label + ' m/s'",
            "labelFont": "DejaVu Serif",
            "labelFontSize": 24,
            "labelColor": "#000",
            "labelLimit": 300,
            "labelAlign": "right",
            "labelOffset": -25,
            "symbolType": "circle",
            "symbolSize": 80,
            "symbolStrokeWidth": 1.2,
            "columnPadding": 22,
            "rowPadding": 2
          }
        }
      }
    },
    {
      "mark": {"type": "point", "opacity": 0},
      "encoding": {
        "x": {
          "field": "t",
          "type": "quantitative",
          "scale": {"domain": [-2.2, 200], "nice": false, "zero": false},
          "axis": {"orient": "top", "values": [0, 50, 100, 150, 200], "labels": false, "title": null}
        },
        "y": {
          "field": "z",
          "type": "quantitative",
          "scale": {"domain": [-8, 0.5], "nice": false, "zero": false},
          "axis": {"orient": "right", "values": [-8, -6, -4, -2, 0], "labels": false, "title": null}
        }
      }
    }
  ],
  "resolve": {"axis": {"x": "independent", "y": "independent"}},
  "config": {
    "font": "DejaVu Sans",
    "view": {"stroke": "#222", "strokeWidth": 1},
    "axis": {
      "grid": false,
      "domain": false,
      "ticks": true,
      "tickSize": -6,
      "tickColor": "#000",
      "tickWidth": 1,
      "labelFont": "DejaVu Sans",
      "labelFontSize": 26,
      "labelColor": "#000",
      "labelFlush": false,
      "labelOverlap": false,
      "titleFont": "DejaVu Sans",
      "titleFontSize": 26,
      "titleFontStyle": "italic",
      "titleFontWeight": "normal",
      "titleColor": "#000"
    }
  }
}
